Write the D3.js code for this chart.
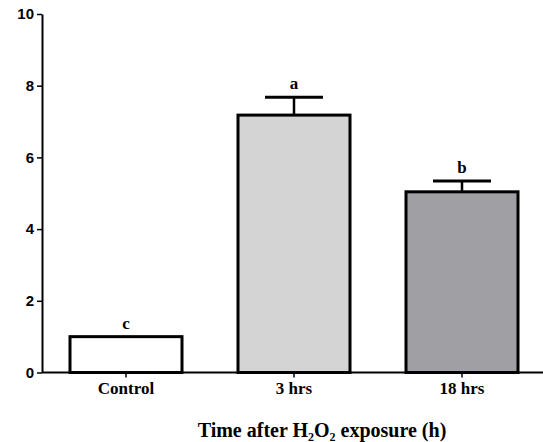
<!DOCTYPE html>
<html>
<head>
<meta charset="utf-8">
<script src="https://cdn.jsdelivr.net/npm/d3@7"></script>
<style>
  body { margin: 0; background: #fff; }
  svg { display: block; }
</style>
</head>
<body>
<div id="main"></div>
<script>
// chart values
const categories = ['Control', '3 hrs', '18 hrs'];
const means = [1.0, 7.18, 5.04];
const errors = [0, 0.5, 0.3];
const letters = ['c', 'a', 'b'];
const fills = ['#ffffff', '#d4d4d4', '#a09fa4'];
const yTicks = [0, 2, 4, 6, 8, 10];

function main() {
  const width = 543;
  const height = 442;
  const left = 42;
  const right = 543;
  const top = 14;
  const bottom = 372.5;

  const svg = d3.select('#main')
    .append('svg')
    .attr('width', width)
    .attr('height', height);

  // band scale, each category 168px wide, bars 112px
  const xScale = d3.scaleBand()
    .domain(categories)
    .range([left, left + 3 * 168])
    .paddingInner(56 / 168)
    .paddingOuter(28 / 168);

  const yScale = d3.scaleLinear()
    .domain([0, 10])
    .range([bottom, top]);

  // bars
  svg.selectAll('rect.bar')
    .data(categories)
    .enter()
    .append('rect')
    .attr('x', d => xScale(d))
    .attr('y', (d, i) => yScale(means[i]))
    .attr('width', xScale.bandwidth())
    .attr('height', (d, i) => bottom - yScale(means[i]))
    .style('fill', (d, i) => fills[i])
    .style('stroke', '#000')
    .style('stroke-width', 3);

  // error bars (upper only)
  const eb = svg.selectAll('g.err')
    .data(categories.filter((d, i) => errors[i] > 0))
    .enter()
    .append('g');
  eb.append('line')
    .attr('x1', d => xScale(d) + xScale.bandwidth() / 2)
    .attr('x2', d => xScale(d) + xScale.bandwidth() / 2)
    .attr('y1', d => yScale(means[categories.indexOf(d)]))
    .attr('y2', d => { const i = categories.indexOf(d); return yScale(means[i] + errors[i]); })
    .style('stroke', '#000')
    .style('stroke-width', 2.5);
  eb.append('line')
    .attr('x1', d => xScale(d) + xScale.bandwidth() / 2 - 29)
    .attr('x2', d => xScale(d) + xScale.bandwidth() / 2 + 29)
    .attr('y1', d => { const i = categories.indexOf(d); return yScale(means[i] + errors[i]); })
    .attr('y2', d => { const i = categories.indexOf(d); return yScale(means[i] + errors[i]); })
    .style('stroke', '#000')
    .style('stroke-width', 3);

  // significance letters
  svg.selectAll('text.letter')
    .data(categories)
    .enter()
    .append('text')
    .attr('x', d => xScale(d) + xScale.bandwidth() / 2)
    .attr('y', (d, i) => yScale(means[i] + errors[i]) - 8)
    .style('font-family', '"Liberation Serif", "Times New Roman", serif')
    .style('font-weight', 'bold')
    .style('font-size', '17px')
    .style('text-anchor', 'middle')
    .text((d, i) => letters[i]);

  // y axis
  const yAxis = d3.axisLeft(yScale)
    .tickValues(yTicks)
    .tickSizeInner(5)
    .tickSizeOuter(0)
    .tickPadding(3);
  const gy = svg.append('g')
    .attr('transform', `translate(${left}, 0)`)
    .call(yAxis);
  gy.select('.domain').style('stroke-width', 2);
  gy.selectAll('.tick line').style('stroke-width', 1.5);
  gy.selectAll('.tick text')
    .style('font-family', '"Liberation Sans", Arial, sans-serif')
    .style('font-weight', 'bold')
    .style('font-size', '15px')
    .style('fill', '#000');

  // x axis
  const xAxis = d3.axisBottom(xScale)
    .tickSizeInner(5)
    .tickSizeOuter(0)
    .tickPadding(4);
  const gx = svg.append('g')
    .attr('transform', `translate(0, ${bottom})`)
    .call(xAxis);
  gx.select('.domain')
    .attr('d', `M${left},0H${right}`)
    .style('stroke-width', 2);
  gx.selectAll('.tick line').style('stroke-width', 1.5);
  gx.selectAll('.tick text')
    .style('font-family', '"Liberation Serif", "Times New Roman", serif')
    .style('font-weight', 'bold')
    .style('font-size', '17px')
    .style('fill', '#000');

  // x axis title
  svg.append('text')
    .attr('x', 322)
    .attr('y', 437)
    .style('font-family', '"Liberation Serif", "Times New Roman", serif')
    .style('font-weight', 'bold')
    .style('font-size', '20px')
    .style('text-anchor', 'middle')
    .text('Time after H₂O₂ exposure (h)');
}

document.addEventListener('DOMContentLoaded', main);
</script>
</body>
</html>
